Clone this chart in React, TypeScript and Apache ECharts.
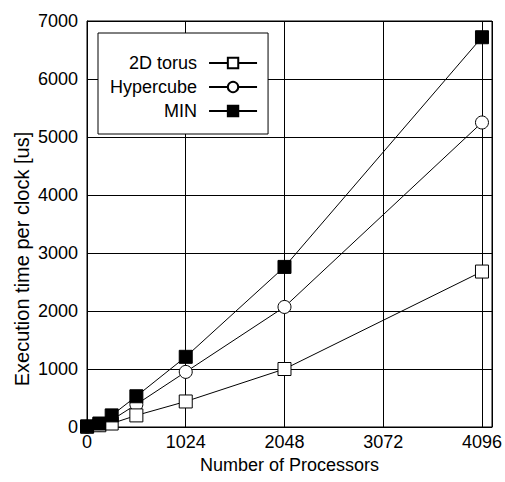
import React, { useEffect, useRef } from "react";
import * as echarts from "echarts";

const processors = [1, 128, 256, 512, 1024, 2048, 4096];
const torus = [5, 30, 60, 200, 440, 1000, 2680];
const hypercube = [5, 40, 120, 390, 950, 2070, 5250];
const minNet = [10, 60, 200, 530, 1210, 2760, 6720];
const seriesNames = ["2D torus", "Hypercube", "MIN"];

const FONT = "'Liberation Sans', Arial, Helvetica, sans-serif";
const FS = 18;

const pairs = (ys: number[]) => processors.map((x, i) => [x, ys[i]]);

export default function App() {
  const ref = useRef<HTMLDivElement>(null);
  useEffect(() => {
    if (!ref.current) return;
    const chart = echarts.init(ref.current, undefined, { renderer: "svg" });
    const base = {
      type: "line",
      showSymbol: true,
      symbolSize: 13,
      lineStyle: { color: "#000", width: 1 },
    };
    chart.setOption({
      animation: false,
      backgroundColor: "#fff",
      grid: {
        left: 87,
        right: 11,
        top: 21,
        bottom: 55,
        show: true,
        borderColor: "#000",
        borderWidth: 1,
      },
      xAxis: {
        type: "value",
        min: 0,
        max: 4200,
        interval: 1024,
        name: "Number of Processors",
        nameLocation: "middle",
        nameGap: 28,
        nameTextStyle: { fontSize: FS, color: "#000", fontFamily: FONT },
        axisLine: { lineStyle: { color: "#000", width: 1 } },
        axisTick: { show: false },
        axisLabel: {
          fontSize: FS,
          color: "#000",
          fontFamily: FONT,
          margin: 6,
          showMaxLabel: false,
          formatter: (v: number) => String(v),
        },
        splitLine: { show: true, lineStyle: { color: "#000", width: 1 } },
      },
      yAxis: {
        type: "value",
        min: 0,
        max: 7000,
        interval: 1000,
        axisLine: { show: true, lineStyle: { color: "#000", width: 1 } },
        axisTick: { show: false },
        axisLabel: {
          fontSize: FS,
          color: "#000",
          fontFamily: FONT,
          margin: 9,
          formatter: (v: number) => String(v),
        },
        splitLine: { show: true, lineStyle: { color: "#000", width: 1 } },
      },
      legend: {
        orient: "vertical",
        left: 98,
        top: 33,
        align: "right",
        itemWidth: 48,
        itemHeight: 13,
        itemGap: 6,
        padding: [21, 10, 14, 12],
        borderColor: "#000",
        borderWidth: 1,
        backgroundColor: "#fff",
        textStyle: {
          fontSize: FS,
          color: "#000",
          fontFamily: FONT,
          width: 86,
          align: "right",
          padding: [0, 7, 0, 0],
        },
        data: seriesNames,
      },
      graphic: [
        {
          type: "text",
          x: 22,
          y: 259,
          rotation: Math.PI / 2,
          style: {
            text: "Execution time per clock [us]",
            fontSize: 20,
            fontFamily: FONT,
            fill: "#000",
            align: "center",
            verticalAlign: "middle",
          },
        },
      ],
      series: [
        {
          ...base,
          name: seriesNames[0],
          z: 3,
          symbol: "rect",
          itemStyle: { color: "#fff", borderColor: "#000", borderWidth: 1 },
          data: pairs(torus),
        },
        {
          ...base,
          name: seriesNames[1],
          z: 2,
          symbol: "circle",
          itemStyle: { color: "#fff", borderColor: "#000", borderWidth: 1 },
          data: pairs(hypercube),
        },
        {
          ...base,
          name: seriesNames[2],
          z: 4,
          symbol: "rect",
          itemStyle: { color: "#000", borderColor: "#000", borderWidth: 1 },
          data: pairs(minNet),
        },
      ],
    });
    return () => chart.dispose();
  }, []);
  return (
    <div
      ref={ref}
      style={{ position: "fixed", left: 0, top: 0, width: 505, height: 482 }}
    />
  );
}
